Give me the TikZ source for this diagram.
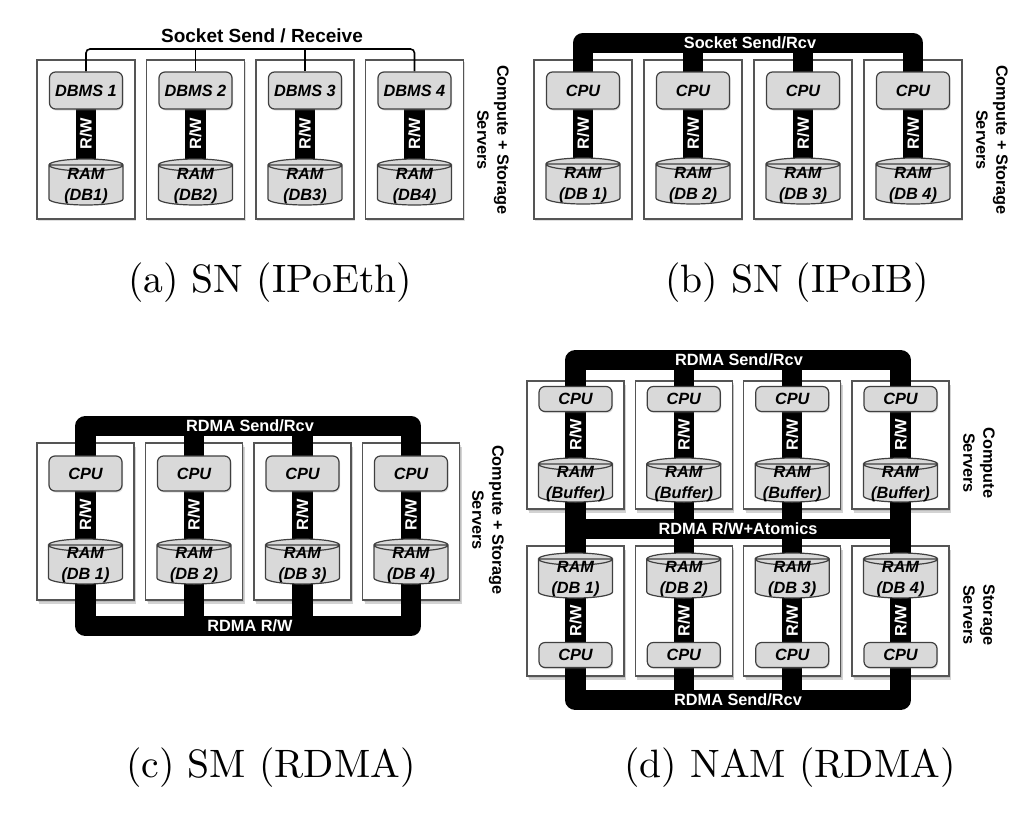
\documentclass[tikz,border=0pt]{standalone}
\usepackage{fontspec}
\setsansfont{Liberation Sans}
\usetikzlibrary{calc,shadows}
\pgfdeclarelayer{boxes}
\pgfdeclarelayer{buses}
\pgfsetlayers{boxes,buses,main}
\definecolor{boxgray}{HTML}{D9D9D9}
\definecolor{edgegray}{HTML}{404040}
\definecolor{srvedge}{HTML}{555555}
\tikzset{
  lbl/.style={font=\fontsize{16.3}{20}\selectfont\sffamily\bfseries},
  server/.style={draw=srvedge, line width=1.4pt, fill=white, minimum width=98pt, inner sep=0pt,
     drop shadow={opacity=0.25, shadow xshift=1.2pt, shadow yshift=-2pt}},
  serverc/.style={server, minimum width=97pt,
     drop shadow={opacity=0.35, shadow xshift=2pt, shadow yshift=-4pt}},
  proc/.style={lbl, font=\fontsize{16.3}{20}\selectfont\sffamily\bfseries\itshape, rectangle, rounded corners=6pt,
     fill=boxgray, draw=edgegray, line width=1.2pt, minimum width=73pt, inner sep=0pt,
     drop shadow={opacity=0.25, shadow xshift=1pt, shadow yshift=-1.5pt}},
  ram/.style={rectangle, draw=none, minimum width=76pt, inner sep=0pt,
     path picture={
       \draw[fill=boxgray, draw=edgegray, line width=1.2pt]
         let \p1=(path picture bounding box.south west), \p2=(path picture bounding box.north east),
             \n1={(\x2-\x1)/2-1pt} in
         ({\x1+1pt},{\y2-7pt}) -- ({\x1+1pt},{\y1+7pt})
         arc[start angle=180, end angle=360, x radius=\n1, y radius=6pt]
         -- ({\x2-1pt},{\y2-7pt}) -- cycle
         ({(\x1+\x2)/2},{\y2-7pt}) ellipse[x radius=\n1, y radius=6pt];
     }},
  ramtext/.style={lbl, font=\fontsize{16.3}{21}\selectfont\sffamily\bfseries\itshape, align=center, inner sep=0pt},
  bus/.style={line width=20.5pt, black, line join=round},
  sockline/.style={line width=1.6pt, black, rounded corners=4pt},
  rw/.style={lbl, text=white, rotate=90, inner sep=0pt},
  bustext/.style={lbl, text=white, inner sep=0pt},
  title/.style={font=\fontsize{19}{22}\selectfont\sffamily\bfseries, inner sep=0pt},
  side/.style={lbl, rotate=-90, align=center, inner sep=0pt},
  caption/.style={font=\fontsize{10}{12}\selectfont, scale=3.96, inner sep=0pt}
}
\begin{document}
\begin{tikzpicture}[x=1pt,y=-1pt]
\useasboundingbox (0,0) rectangle (1030,814);

% ===================== (a) SN (IPoEth)
\foreach \i/\x in {1/86,2/195.5,3/305,4/414.5}{
  \begin{pgfonlayer}{boxes}
    \node[server, minimum height=159pt] (a-srv\i) at (\x,139.5) {};
  \end{pgfonlayer}
  \node[proc, minimum height=37pt] (a-db\i) at (\x,90.5) {DBMS \i};
  \node[ram, minimum height=48pt] (a-ram\i) at (\x,182) {};
  \node[ramtext] (a-ramt\i) at ([yshift=-4pt]a-ram\i.center) {RAM\\(DB\i)};
  \begin{pgfonlayer}{buses}
    \draw[bus] (a-db\i.center) -- (a-ram\i.center);
  \end{pgfonlayer}
  \node[rw] (a-rw\i) at ($(a-db\i.south)!0.5!(a-ram\i.north)$) {R/W};
}
\coordinate (a-sock) at (250,49);
\begin{pgfonlayer}{buses}
  \draw[sockline] (a-db1.north) |- (a-sock) -| (a-db4.north);
  \draw[sockline] (a-db2.north) -- (a-db2.north |- a-sock);
  \draw[sockline] (a-db3.north) -- (a-db3.north |- a-sock);
\end{pgfonlayer}
\node[title] (a-title) at (262,36) {Socket Send / Receive};
\node[side] (a-side) at (493,140) {Compute + Storage\\Servers};
\node[caption] (a-cap) at (270,283) {(a) SN (IPoEth)};

% ===================== (b) SN (IPoIB)
\foreach \i/\x in {1/583,2/693,3/803,4/913}{
  \begin{pgfonlayer}{boxes}
    \node[server, minimum height=159pt] (b-srv\i) at (\x,139.5) {};
  \end{pgfonlayer}
  \node[proc, minimum height=37pt] (b-cpu\i) at (\x,90.5) {CPU};
  \node[ram, minimum height=48pt] (b-ram\i) at (\x,181) {};
  \node[ramtext] (b-ramt\i) at ([yshift=-4pt]b-ram\i.center) {RAM\\(DB \i)};
  \begin{pgfonlayer}{buses}
    \draw[bus] (b-cpu\i.center) -- (b-ram\i.center);
  \end{pgfonlayer}
  \node[rw] (b-rw\i) at ($(b-cpu\i.south)!0.5!(b-ram\i.north)$) {R/W};
}
\node[bustext] (b-lbl) at (750,43) {Socket Send/Rcv};
\begin{pgfonlayer}{buses}
  \draw[bus] (b-cpu1.center) |- (b-lbl.center) -| (b-cpu4.center);
  \draw[bus] (b-cpu2.center) -- (b-cpu2.center |- b-lbl.center);
  \draw[bus] (b-cpu3.center) -- (b-cpu3.center |- b-lbl.center);
\end{pgfonlayer}
\node[side] (b-side) at (992,140) {Compute + Storage\\Servers};
\node[caption] (b-cap) at (797,283) {(b) SN (IPoIB)};

% ===================== (c) SM (RDMA)
\foreach \i/\x in {1/85.5,2/194,3/302.5,4/411}{
  \begin{pgfonlayer}{boxes}
    \node[serverc, minimum height=157pt] (c-srv\i) at (\x,521.5) {};
  \end{pgfonlayer}
  \node[proc, minimum height=35pt] (c-cpu\i) at (\x,473.5) {CPU};
  \node[ram, minimum height=47pt] (c-ram\i) at (\x,561.5) {};
  \node[ramtext] (c-ramt\i) at ([yshift=-4pt]c-ram\i.center) {RAM\\(DB \i)};
  \node[rw] (c-rw\i) at ($(c-cpu\i.south)!0.5!(c-ram\i.north)$) {R/W};
}
\node[bustext] (c-top) at (250,426) {RDMA Send/Rcv};
\node[bustext] (c-bot) at (250,626) {RDMA R/W};
\begin{pgfonlayer}{buses}
  \draw[bus] (c-cpu1.center) |- (c-top.center) -| (c-cpu4.center);
  \draw[bus] (c-ram1.center) |- (c-bot.center) -| (c-ram4.center);
  \foreach \i in {1,4}{\draw[bus] (c-cpu\i.center) -- (c-ram\i.center);}
  \foreach \i in {2,3}{\draw[bus] (c-cpu\i.center |- c-top.center) -- (c-ram\i.center |- c-bot.center);}
\end{pgfonlayer}
\node[side] (c-side) at (488,520) {Compute + Storage\\Servers};
\node[caption] (c-cap) at (271,768) {(c) SM (RDMA)};

% ===================== (d) NAM (RDMA)
\foreach \i/\x in {1/575.5,2/683.8,3/792.2,4/900.5}{
  \begin{pgfonlayer}{boxes}
    \node[serverc, minimum height=128pt] (d-csrv\i) at (\x,445) {};
    \node[serverc, minimum height=130pt] (d-ssrv\i) at (\x,611) {};
  \end{pgfonlayer}
  \node[proc, minimum height=25pt] (d-ccpu\i) at (\x,399) {CPU};
  \node[ram, minimum height=46pt] (d-cram\i) at (\x,480) {};
  \node[ramtext] (d-cramt\i) at ([yshift=-4pt]d-cram\i.center) {RAM\\(Buffer)};
  \node[rw] (d-crw\i) at ($(d-ccpu\i.south)!0.5!(d-cram\i.north)$) {R/W};
  \node[ram, minimum height=47pt] (d-sram\i) at (\x,575.5) {};
  \node[ramtext] (d-sramt\i) at ([yshift=-4pt]d-sram\i.center) {RAM\\(DB \i)};
  \node[proc, minimum height=25pt] (d-scpu\i) at (\x,655) {CPU};
  \node[rw] (d-srw\i) at ($(d-sram\i.south)!0.5!(d-scpu\i.north)$) {R/W};
}
\node[bustext] (d-top) at (739,360) {RDMA Send/Rcv};
\node[bustext] (d-mid) at (738,529) {RDMA R/W+Atomics};
\node[bustext] (d-bot) at (738,700) {RDMA Send/Rcv};
\begin{pgfonlayer}{buses}
  \draw[bus] (d-ccpu1.center) |- (d-top.center) -| (d-ccpu4.center);
  \draw[bus] (d-scpu1.center) |- (d-bot.center) -| (d-scpu4.center);
  \draw[bus] (d-cram1.center |- d-mid.center) -- (d-cram4.center |- d-mid.center);
  \foreach \i in {1,2,3,4}{\draw[bus] (d-ccpu\i.center |- d-top.center) -- (d-scpu\i.center |- d-bot.center);}
\end{pgfonlayer}
\node[side] (d-side1) at (979,463) {Compute\\Servers};
\node[side] (d-side2) at (979,615) {Storage\\Servers};
\node[caption] (d-cap) at (790,768) {(d) NAM (RDMA)};
\end{tikzpicture}
\end{document}
